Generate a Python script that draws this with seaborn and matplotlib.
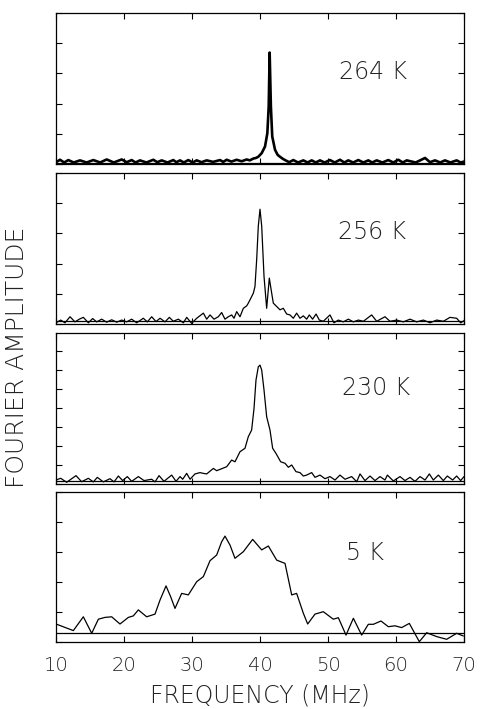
import matplotlib
matplotlib.use("Agg")
import matplotlib.pyplot as plt
import seaborn as sns
import pandas as pd
from matplotlib.ticker import MultipleLocator

sns.set_theme(style="ticks")
plt.rcParams["font.family"] = ["DejaVu Sans"]

# ---------------- data (frequency in MHz, Fourier amplitude in arbitrary units) ----------------
freq_264 = [10.0, 10.59, 11.2, 11.81, 12.6, 13.53, 14.5, 15.49, 16.5, 17.45, 18.5, 19.66, 20.4, 21.13,
            21.7, 22.35, 23.3, 24.31, 24.9, 25.54, 26.4, 27.25, 27.7, 28.24, 28.8, 29.46, 30.1, 30.69,
            31.4, 32.16, 33.1, 34.12, 34.6, 35.1, 35.8, 36.57, 37.3, 38.04, 38.5, 39.02, 39.4, 39.75,
            40.25, 40.74, 41.08, 41.28, 41.42, 41.6, 41.8, 42.21, 42.6, 42.94, 43.3, 43.68, 44.3, 44.9,
            45.6, 46.37, 47.0, 47.6, 48.2, 48.82, 49.5, 50.29, 51.0, 51.76, 52.4, 52.99, 53.7, 54.46,
            55.2, 55.93, 56.5, 57.16, 58.0, 58.87, 59.6, 60.34, 61.0, 61.57, 62.9, 64.27, 65.0, 65.74,
            66.5, 67.2, 68.0, 68.92, 69.5, 70.0]
amp_264 = [0.06, 0.14, 0.05, 0.13, 0.05, 0.12, 0.05, 0.13, 0.05, 0.15, 0.05, 0.15, 0.06, 0.13,
           0.05, 0.12, 0.05, 0.14, 0.06, 0.12, 0.05, 0.13, 0.06, 0.12, 0.05, 0.13, 0.05, 0.12,
           0.06, 0.12, 0.07, 0.13, 0.07, 0.14, 0.08, 0.14, 0.09, 0.15, 0.12, 0.18, 0.20, 0.24,
           0.36, 0.58, 1.02, 1.91, 3.69, 1.91, 0.91, 0.47, 0.30, 0.24, 0.18, 0.13, 0.06, 0.13,
           0.05, 0.12, 0.05, 0.12, 0.05, 0.12, 0.05, 0.13, 0.05, 0.14, 0.05, 0.12, 0.05, 0.13,
           0.05, 0.12, 0.05, 0.12, 0.05, 0.13, 0.05, 0.14, 0.05, 0.12, 0.05, 0.20, 0.06, 0.12,
           0.05, 0.12, 0.05, 0.12, 0.05, 0.08]

freq_256 = [10.0, 10.69, 11.32, 12.06, 12.79, 13.43, 14.02, 14.76, 15.39, 15.98, 16.72, 17.45, 18.19,
            18.92, 19.66, 20.39, 21.13, 21.86, 22.84, 23.43, 24.07, 24.71, 25.3, 26.03, 26.67, 27.25,
            27.99, 28.73, 29.22, 29.95, 30.69, 31.67, 32.16, 32.65, 33.24, 33.87, 34.36, 34.85, 35.34,
            35.83, 36.18, 36.57, 37.06, 37.55, 38.04, 38.28, 38.53, 39.02, 39.26, 39.51, 39.75, 40.0,
            40.25, 40.59, 40.98, 41.37, 41.72, 41.96, 42.45, 42.94, 43.43, 43.92, 44.41, 44.9, 45.39,
            45.88, 46.37, 46.86, 47.25, 47.74, 48.24, 48.73, 49.31, 50.29, 50.88, 51.52, 52.25, 52.99,
            53.73, 54.46, 55.2, 56.42, 57.16, 58.38, 59.12, 60.1, 61.08, 62.06, 63.04, 64.02, 65.0,
            65.98, 66.96, 67.94, 68.92, 69.51, 70.0]
amp_256 = [0.04, 0.13, 0.04, 0.24, 0.07, 0.16, 0.22, 0.04, 0.18, 0.07, 0.16, 0.06, 0.14,
           0.06, 0.13, 0.07, 0.16, 0.04, 0.19, 0.07, 0.24, 0.08, 0.19, 0.07, 0.22, 0.09,
           0.16, 0.04, 0.22, 0.02, 0.19, 0.36, 0.16, 0.30, 0.16, 0.24, 0.38, 0.16, 0.24,
           0.30, 0.19, 0.41, 0.24, 0.52, 0.60, 0.69, 0.80, 1.02, 1.24, 2.13, 3.24, 3.80,
           3.24, 1.58, 0.52, 1.52, 1.02, 0.69, 0.58, 0.47, 0.52, 0.33, 0.30, 0.19, 0.36,
           0.19, 0.27, 0.16, 0.30, 0.16, 0.33, 0.13, 0.09, 0.30, 0.04, 0.13, 0.07, 0.16,
           0.07, 0.13, 0.09, 0.30, 0.09, 0.24, 0.09, 0.13, 0.07, 0.16, 0.07, 0.13, 0.04,
           0.13, 0.09, 0.22, 0.19, 0.04, 0.11]

freq_230 = [10.0, 10.69, 11.57, 12.94, 13.77, 14.76, 15.49, 16.08, 16.96, 17.94, 18.53, 19.17, 19.8,
            20.49, 21.13, 22.11, 22.94, 24.07, 24.56, 25.15, 25.88, 27.01, 27.65, 28.24, 28.63, 29.22,
            29.71, 30.44, 31.18, 31.66, 32.16, 33.14, 33.63, 34.12, 35.1, 35.83, 36.32, 37.06, 37.79,
            38.28, 38.77, 39.12, 39.41, 39.75, 40.0, 40.25, 40.59, 40.98, 41.47, 41.86, 42.35, 43.04,
            43.68, 44.17, 44.66, 45.29, 45.88, 46.37, 46.86, 47.6, 48.09, 48.82, 49.56, 50.29, 51.03,
            51.76, 52.5, 53.48, 54.22, 54.71, 55.44, 56.18, 56.91, 57.65, 58.38, 58.73, 59.61, 60.59,
            61.32, 62.06, 62.79, 63.53, 64.27, 64.9, 65.49, 66.23, 66.96, 67.55, 68.33, 68.92, 69.51,
            70.0]
amp_230 = [0.21, 0.30, 0.09, 0.44, 0.12, 0.30, 0.11, 0.35, 0.11, 0.28, 0.11, 0.42, 0.18,
           0.39, 0.14, 0.39, 0.18, 0.25, 0.11, 0.44, 0.14, 0.47, 0.14, 0.39, 0.25, 0.56,
           0.25, 0.53, 0.60, 0.56, 0.53, 0.82, 0.70, 0.77, 0.91, 1.26, 1.17, 1.70, 1.88,
           2.49, 2.84, 3.98, 5.47, 6.17, 6.26, 6.00, 4.95, 3.54, 2.84, 1.88, 1.61, 1.17,
           1.09, 0.88, 1.00, 0.65, 0.60, 0.42, 0.47, 0.60, 0.35, 0.47, 0.28, 0.39, 0.21,
           0.47, 0.25, 0.39, 0.12, 0.53, 0.18, 0.42, 0.18, 0.39, 0.21, 0.47, 0.16, 0.39,
           0.18, 0.35, 0.14, 0.39, 0.21, 0.53, 0.21, 0.47, 0.18, 0.42, 0.21, 0.42, 0.18,
           0.39]

freq_5 = [10.0, 12.55, 14.02, 15.25, 16.23, 17.2, 18.19, 19.41, 20.64, 21.37, 22.11, 23.33, 24.56,
          25.3, 26.18, 26.86, 27.5, 28.48, 29.46, 30.69, 31.67, 32.65, 33.63, 34.36, 34.85, 35.59,
          36.32, 37.55, 38.92, 40.25, 41.23, 42.45, 43.68, 44.66, 45.39, 46.37, 47.01, 48.09, 49.31,
          50.78, 51.52, 52.65, 53.73, 54.95, 55.93, 56.67, 57.79, 58.87, 59.85, 60.83, 61.96, 63.43,
          64.51, 65.98, 67.45, 68.92, 69.9]
amp_5 = [0.60, 0.38, 0.84, 0.29, 0.76, 0.82, 0.84, 0.60, 0.82, 0.87, 1.07, 0.84, 0.93,
         1.40, 1.87, 1.51, 1.12, 1.62, 1.57, 2.01, 2.18, 2.71, 2.90, 3.34, 3.53, 3.23,
         2.79, 3.01, 3.42, 3.07, 3.20, 2.73, 2.62, 1.57, 1.62, 0.96, 0.60, 0.93, 1.01,
         0.76, 0.81, 0.23, 0.79, 0.23, 0.59, 0.59, 0.70, 0.51, 0.54, 0.48, 0.62, 0.01,
         0.31, 0.18, 0.09, 0.29, 0.20]

labels = ["264 K", "256 K", "230 K", "5 K"]
baselines = [0.04, 0.10, 0.16, 0.29]
ytops = [5.0, 5.0, 7.95, 5.0]
label_pos = [(56.6, 3.03), (56.5, 3.03), (57.1, 5.05), (55.4, 2.97)]
xticks = [10, 20, 30, 40, 50, 60, 70]

series = [(freq_264, amp_264), (freq_256, amp_256), (freq_230, amp_230), (freq_5, amp_5)]
linewidths = [1.9, 0.9, 0.9, 0.9]

# ---------------- figure ----------------
W, H = 486, 709
fig = plt.figure(figsize=(W / 100, H / 100), dpi=100)
fig.patch.set_facecolor("white")

panel_px = [(13, 164), (173, 324), (333, 484), (492, 642)]
left_px, right_px = 56, 464
txt_color = "#222222"

for i, ((f, a), (t, b)) in enumerate(zip(series, panel_px)):
    ax = fig.add_axes([left_px / W, 1 - b / H, (right_px - left_px) / W, (b - t) / H])
    df = pd.DataFrame({"freq": f, "amp": a})
    sns.lineplot(data=df, x="freq", y="amp", ax=ax, color="black",
                 linewidth=linewidths[i], estimator=None, sort=False)
    ax.axhline(baselines[i], color="black", lw=0.9)
    ax.set_xlim(10, 70)
    ax.set_ylim(0, ytops[i])
    ax.set_xticks(xticks)
    ax.yaxis.set_major_locator(MultipleLocator(1))
    ax.tick_params(direction="in", top=True, right=True, length=4, width=0.8,
                   labelleft=False, colors="black")
    for s in ax.spines.values():
        s.set_linewidth(0.9)
        s.set_color("black")
    ax.set_xlabel("")
    ax.set_ylabel("")
    ax.set_facecolor("white")
    ax.text(label_pos[i][0], label_pos[i][1], labels[i], ha="center", va="center",
            fontsize=17, fontweight="light", color=txt_color)
    if i < 3:
        ax.tick_params(labelbottom=False)
    else:
        ax.set_xticklabels([str(v) for v in xticks], fontsize=14, fontweight="light",
                           color=txt_color)
        ax.tick_params(axis="x", pad=10)

fig.text(((left_px + right_px) / 2) / W, 1 - 703 / H, "FREQUENCY (MHz)", ha="center",
         va="baseline", fontsize=17, fontweight="light", color=txt_color)

fig.text(17 / W, 1 - 357 / H, "FOURIER AMPLITUDE", rotation=90, ha="center", va="center",
         fontsize=18, fontweight="light", color=txt_color)

fig.savefig("out.png", dpi=100, facecolor="white")
